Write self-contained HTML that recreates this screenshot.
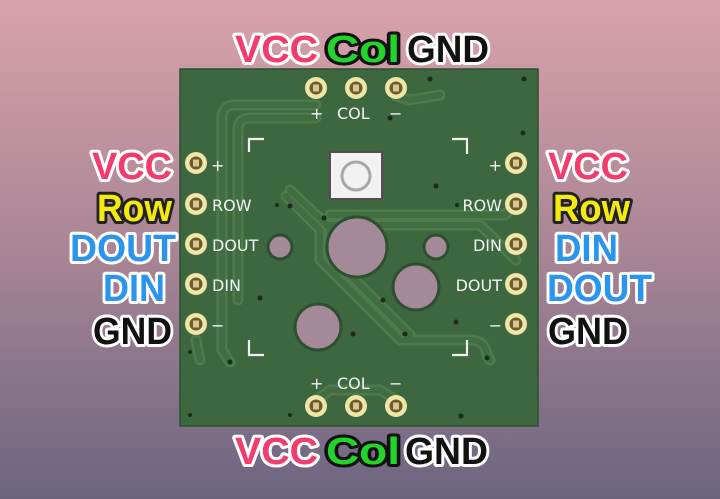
<!DOCTYPE html>
<html><head><style>
html,body{margin:0;padding:0;width:720px;height:499px;overflow:hidden}
svg{display:block}
.l{font-family:"Liberation Sans",sans-serif;font-weight:bold;font-size:38px;paint-order:stroke;stroke-linejoin:round;stroke-width:6px;stroke:#fff}
.s{font-family:"DejaVu Sans","Liberation Sans",sans-serif;font-size:16px;fill:#f2f2f2}
</style></head><body>
<svg width="720" height="499" viewBox="0 0 720 499" xmlns="http://www.w3.org/2000/svg">
<defs>
<linearGradient id="bg" x1="0" y1="0" x2="0" y2="1">
<stop offset="0" stop-color="#d9a2ab"/><stop offset="0.5" stop-color="#a98595"/><stop offset="1" stop-color="#6c6580"/>
</linearGradient>
<g id="pad"><circle r="11" fill="#efe6a8"/><circle r="6.5" fill="#6b5a2a"/><rect x="-3" y="-3.5" width="6" height="7" fill="#d6c690"/></g>
<g id="tr">
<path d="M316 105 L235 105 Q222 105 222 118 L222 350 L230 362"/>
<path d="M316 118 L250 118 Q238 118 238 130 L238 300"/>
<path d="M286 196 L320 230 L320 260 L400 340 L470 340 Q485 340 487 355 L490 360"/>
<path d="M290 190 L330 228 L330 255 L410 335"/>
<path d="M330 215 L505 215 L516 204"/>
<path d="M330 225 L480 225 L516 260"/>
<path d="M396 96 L410 100 L440 95"/>
<path d="M316 400 L330 390 L380 390 L396 400"/>
<path d="M196 340 L200 360"/>
</g>
</defs>
<rect width="720" height="499" fill="url(#bg)"/>
<rect x="180" y="69" width="358" height="357" fill="#3d683f" stroke="#2e4f30" stroke-width="1.5"/>
<use href="#tr" fill="none" stroke="#4e7a4c" stroke-width="11" stroke-linejoin="round" stroke-linecap="round"/>
<use href="#tr" fill="none" stroke="#416d42" stroke-width="6" stroke-linejoin="round" stroke-linecap="round"/>
<g fill="none" stroke="#f0f0f0" stroke-width="2.2">
<path d="M249 152 V139 H264"/><path d="M452 139 H467 V154"/>
<path d="M249 340 V355 H264"/><path d="M452 355 H467 V340"/>
</g>
<rect x="329" y="151" width="54" height="49" fill="#5a4a55"/>
<rect x="331" y="153" width="50" height="45" fill="#f2f2f2"/>
<circle cx="356" cy="176" r="14" fill="#f2f2f2" stroke="#a8a8a8" stroke-width="3"/>
<g fill="#a48a98" stroke="#2e4f30" stroke-width="3">
<circle cx="357" cy="247" r="30"/>
<circle cx="280" cy="247" r="12"/>
<circle cx="436" cy="247" r="12"/>
<circle cx="416" cy="287" r="23"/>
<circle cx="318" cy="327" r="23"/>
</g>
<g fill="#1e2a1e">
<circle cx="430" cy="79" r="2.5"/><circle cx="524" cy="79" r="2.5"/><circle cx="523" cy="133" r="2.5"/>
<circle cx="390" cy="118" r="2.5"/><circle cx="436" cy="186" r="2.5"/><circle cx="290" cy="206" r="2.5"/>
<circle cx="277" cy="205" r="2"/><circle cx="324" cy="218" r="2.5"/><circle cx="457" cy="205" r="2"/>
<circle cx="260" cy="298" r="2.5"/><circle cx="383" cy="300" r="2.5"/><circle cx="456" cy="322" r="2.5"/>
<circle cx="353" cy="334" r="2.5"/><circle cx="405" cy="334" r="2.5"/><circle cx="230" cy="362" r="2.5"/>
<circle cx="190" cy="352" r="2"/><circle cx="487" cy="358" r="2.5"/><circle cx="190" cy="415" r="2"/>
<circle cx="290" cy="415" r="2"/><circle cx="461" cy="416" r="2.5"/>
</g>
<use href="#pad" x="316" y="88"/><use href="#pad" x="356" y="88"/><use href="#pad" x="396" y="88"/>
<use href="#pad" x="316" y="406"/><use href="#pad" x="356" y="406"/><use href="#pad" x="396" y="406"/>
<use href="#pad" x="196" y="163"/><use href="#pad" x="196" y="204"/><use href="#pad" x="196" y="244"/><use href="#pad" x="196" y="284"/><use href="#pad" x="196" y="324"/>
<use href="#pad" x="516" y="163"/><use href="#pad" x="516" y="204"/><use href="#pad" x="516" y="244"/><use href="#pad" x="516" y="284"/><use href="#pad" x="516" y="324"/>
<text class="s" x="310" y="119">+</text><text class="s" x="337" y="119">COL</text><text class="s" x="389" y="119">−</text>
<text class="s" x="310" y="389">+</text><text class="s" x="337" y="389">COL</text><text class="s" x="389" y="389">−</text>
<text class="s" x="211" y="171">+</text><text class="s" x="212" y="211">ROW</text><text class="s" x="212" y="251">DOUT</text><text class="s" x="212" y="291">DIN</text><text class="s" x="211" y="331">−</text>
<g text-anchor="end"><text class="s" x="502" y="171">+</text><text class="s" x="502" y="211">ROW</text><text class="s" x="502" y="251">DIN</text><text class="s" x="502" y="291">DOUT</text><text class="s" x="502" y="331">−</text></g>
<text class="l" x="235" y="62" fill="#f23c6e" textLength="83" lengthAdjust="spacingAndGlyphs">VCC</text>
<text class="l" x="326" y="62" fill="#22d52a" style="stroke:#111" textLength="74" lengthAdjust="spacingAndGlyphs">Col</text>
<text class="l" x="407" y="62" fill="#111" textLength="82" lengthAdjust="spacingAndGlyphs">GND</text>
<text class="l" x="235" y="464" fill="#f23c6e" textLength="83" lengthAdjust="spacingAndGlyphs">VCC</text>
<text class="l" x="326" y="464" fill="#22d52a" style="stroke:#111" textLength="74" lengthAdjust="spacingAndGlyphs">Col</text>
<text class="l" x="405" y="464" fill="#111" textLength="83" lengthAdjust="spacingAndGlyphs">GND</text>
<text class="l" x="92" y="179" fill="#f23c6e" textLength="80" lengthAdjust="spacingAndGlyphs">VCC</text>
<text class="l" x="97" y="221" fill="#f5ea10" style="stroke:#222" textLength="75" lengthAdjust="spacingAndGlyphs">Row</text>
<text class="l" x="70" y="261" fill="#2a95ee" textLength="106" lengthAdjust="spacingAndGlyphs">DOUT</text>
<text class="l" x="103" y="301" fill="#2a95ee" textLength="62" lengthAdjust="spacingAndGlyphs">DIN</text>
<text class="l" x="93" y="344" fill="#111" textLength="79" lengthAdjust="spacingAndGlyphs">GND</text>
<text class="l" x="548" y="179" fill="#f23c6e" textLength="80" lengthAdjust="spacingAndGlyphs">VCC</text>
<text class="l" x="553" y="221" fill="#f5ea10" style="stroke:#222" textLength="77" lengthAdjust="spacingAndGlyphs">Row</text>
<text class="l" x="555" y="261" fill="#2a95ee" textLength="63" lengthAdjust="spacingAndGlyphs">DIN</text>
<text class="l" x="547" y="301" fill="#2a95ee" textLength="105" lengthAdjust="spacingAndGlyphs">DOUT</text>
<text class="l" x="548" y="344" fill="#111" textLength="80" lengthAdjust="spacingAndGlyphs">GND</text>
</svg>
</body></html>
